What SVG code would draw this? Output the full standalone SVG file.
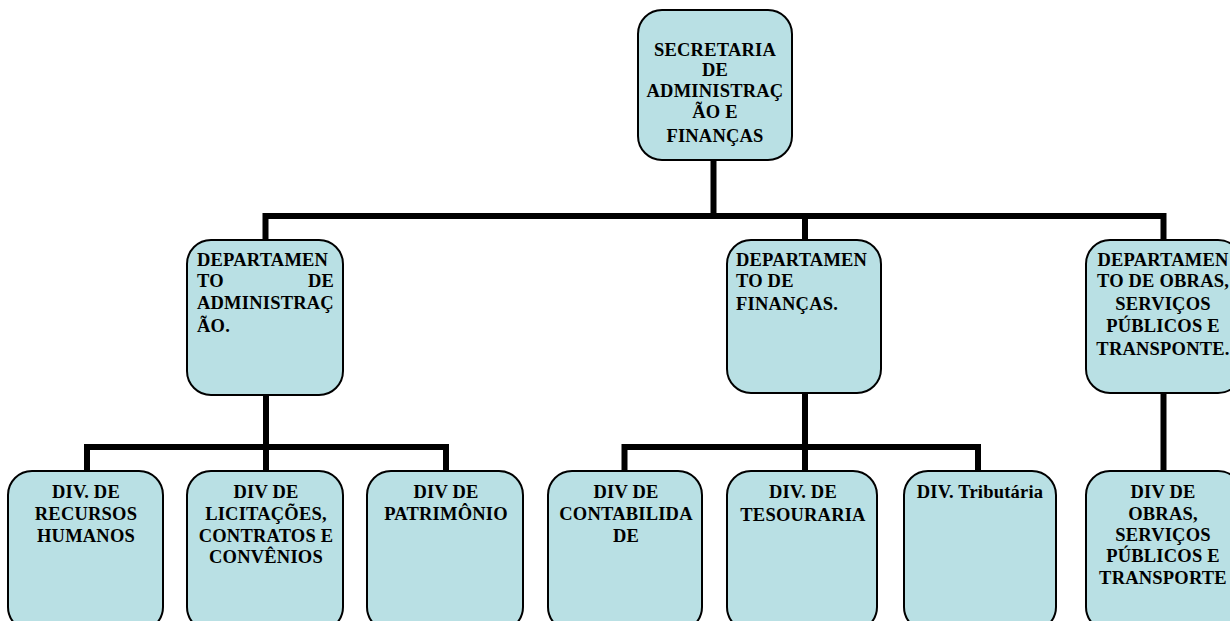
<svg xmlns="http://www.w3.org/2000/svg" width="1230" height="621" viewBox="0 0 1230 621">
  <style>
    .box { fill: #B9E0E4; stroke: #000; stroke-width: 2; }
    .lbl { font-family: "Liberation Serif", "Times New Roman", serif; font-weight: bold; font-size: 18.5px; letter-spacing: 0.2px; fill: #000; }
    .c { text-anchor: middle; }
    .wire { fill: none; stroke: #000; stroke-width: 6; stroke-linejoin: miter; }
  </style>
  <rect width="1230" height="621" fill="#fff"/>

  <!-- connectors -->
  <g id="connectors">
    <path class="wire" d="M713.5,160 V216"/>
    <path class="wire" d="M265.5,240 V216 H1163.5 V240"/>
    <path class="wire" d="M805,216 V240"/>
    <path class="wire" d="M266,395 V447"/>
    <path class="wire" d="M87,471 V447 H446 V471"/>
    <path class="wire" d="M266,447 V471"/>
    <path class="wire" d="M805,393 V447"/>
    <path class="wire" d="M624.5,471 V447 H978 V471"/>
    <path class="wire" d="M805,447 V471"/>
    <path class="wire" d="M1163.5,393 V471"/>
  </g>

  <!-- secretaria -->
  <g id="secretaria">
    <rect class="box" x="638" y="10" width="154" height="150" rx="24"/>
    <text class="lbl c" x="715" y="56">SECRETARIA</text>
    <text class="lbl c" x="715" y="76">DE</text>
    <text class="lbl c" x="715" y="97">ADMINISTRAÇ</text>
    <text class="lbl c" x="715" y="118">ÃO E</text>
    <text class="lbl c" x="715" y="142">FINANÇAS</text>
  </g>

  <!-- departamentos -->
  <g id="dep-administracao">
    <rect class="box" x="187" y="240" width="156" height="155" rx="24"/>
    <text class="lbl" x="197" y="266">DEPARTAMEN</text>
    <text class="lbl" x="197" y="287">TO</text>
    <text class="lbl" x="334" y="287" text-anchor="end">DE</text>
    <text class="lbl" x="197" y="309">ADMINISTRAÇ</text>
    <text class="lbl" x="197" y="332">ÃO.</text>
  </g>

  <g id="dep-financas">
    <rect class="box" x="727" y="240" width="154" height="153" rx="24"/>
    <text class="lbl" x="736" y="266">DEPARTAMEN</text>
    <text class="lbl" x="736" y="287">TO DE</text>
    <text class="lbl" x="736" y="310">FINANÇAS.</text>
  </g>

  <g id="dep-obras">
    <rect class="box" x="1086" y="240" width="156" height="153" rx="24"/>
    <text class="lbl c" x="1163" y="266">DEPARTAMEN</text>
    <text class="lbl c" x="1163" y="287">TO DE OBRAS,</text>
    <text class="lbl c" x="1163" y="310">SERVIÇOS</text>
    <text class="lbl c" x="1163" y="332">PÚBLICOS E</text>
    <text class="lbl c" x="1163" y="355">TRANSPONTE.</text>
  </g>

  <!-- divisões -->
  <g id="div-rh">
    <rect class="box" x="8" y="471" width="155" height="160" rx="24"/>
    <text class="lbl c" x="86" y="498">DIV. DE</text>
    <text class="lbl c" x="86" y="520">RECURSOS</text>
    <text class="lbl c" x="86" y="542">HUMANOS</text>
  </g>

  <g id="div-licitacoes">
    <rect class="box" x="187" y="471" width="156" height="160" rx="24"/>
    <text class="lbl c" x="266" y="498">DIV DE</text>
    <text class="lbl c" x="266" y="520">LICITAÇÕES,</text>
    <text class="lbl c" x="266" y="542">CONTRATOS E</text>
    <text class="lbl c" x="266" y="563">CONVÊNIOS</text>
  </g>

  <g id="div-patrimonio">
    <rect class="box" x="367" y="471" width="156" height="160" rx="24"/>
    <text class="lbl c" x="446" y="498">DIV DE</text>
    <text class="lbl c" x="446" y="520">PATRIMÔNIO</text>
  </g>

  <g id="div-contabilidade">
    <rect class="box" x="548" y="471" width="154" height="160" rx="24"/>
    <text class="lbl c" x="626" y="498">DIV DE</text>
    <text class="lbl c" x="626" y="520">CONTABILIDA</text>
    <text class="lbl c" x="626" y="542">DE</text>
  </g>

  <g id="div-tesouraria">
    <rect class="box" x="727" y="471" width="150" height="160" rx="24"/>
    <text class="lbl c" x="803" y="498">DIV. DE</text>
    <text class="lbl c" x="803" y="521">TESOURARIA</text>
  </g>

  <g id="div-tributaria">
    <rect class="box" x="904" y="471" width="152" height="160" rx="24"/>
    <text class="lbl c" x="980" y="498">DIV. Tributária</text>
  </g>

  <g id="div-obras">
    <rect class="box" x="1086" y="471" width="156" height="160" rx="24"/>
    <text class="lbl c" x="1163" y="498">DIV DE</text>
    <text class="lbl c" x="1163" y="520">OBRAS,</text>
    <text class="lbl c" x="1163" y="541">SERVIÇOS</text>
    <text class="lbl c" x="1163" y="562">PÚBLICOS E</text>
    <text class="lbl c" x="1163" y="584">TRANSPORTE</text>
  </g>
</svg>
